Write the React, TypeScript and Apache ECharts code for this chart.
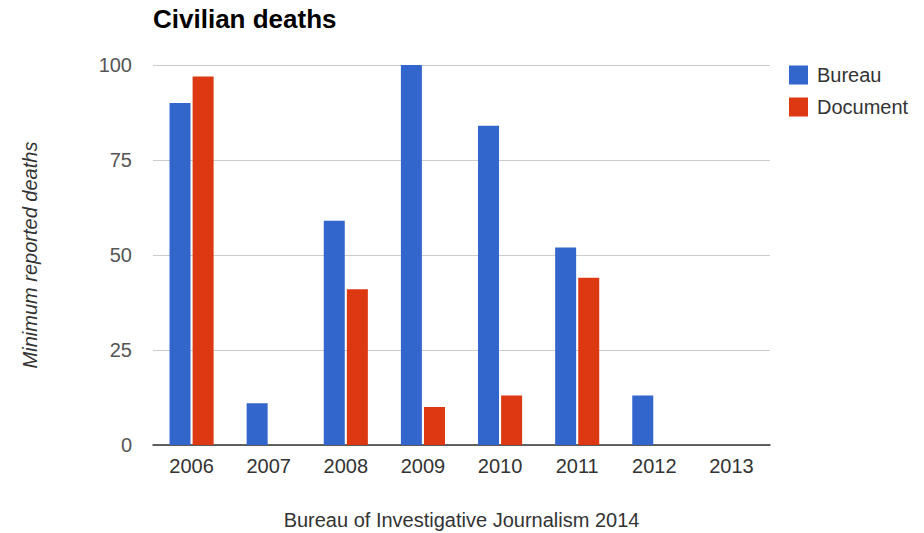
import React, { useEffect, useRef } from "react";
import * as echarts from "echarts";

const years = ["2006", "2007", "2008", "2009", "2010", "2011", "2012", "2013"];
const bureau = [90, 11, 59, 100, 84, 52, 13, 0];
const documentVals = [97, 0, 41, 10, 13, 44, 0, 0];
const yTicks = [0, 25, 50, 75, 100];

const FONT = "Liberation Sans";

export default function App() {
  const ref = useRef<HTMLDivElement>(null);
  useEffect(() => {
    document.body.style.margin = "0";
    const chart = echarts.init(ref.current!, undefined, { renderer: "svg" });
    chart.setOption({
      animation: false,
      backgroundColor: "#ffffff",
      title: {
        text: "Civilian deaths",
        left: 153,
        top: 6,
        padding: 0,
        textStyle: { fontFamily: FONT, fontSize: 26, fontWeight: "bold", color: "#000" },
      },
      legend: {
        orient: "vertical",
        left: 789,
        top: 65,
        padding: 0,
        itemWidth: 19,
        itemHeight: 19,
        itemGap: 12,
        icon: "rect",
        textStyle: { fontFamily: FONT, fontSize: 20, color: "#333", padding: [0, 0, 0, 4] },
        data: ["Bureau", "Document"],
      },
      grid: { left: 153, right: 154, top: 65, bottom: 88, outerBoundsMode: "none", containLabel: false },
      xAxis: {
        type: "category",
        data: years,
        name: "Bureau of Investigative Journalism 2014",
        nameLocation: "middle",
        nameGap: 65,
        nameTextStyle: { fontFamily: FONT, fontSize: 20, color: "#333" },
        axisLine: { lineStyle: { color: "#333", width: 1.5 } },
        axisTick: { show: false },
        axisLabel: { fontFamily: FONT, fontSize: 20, color: "#333", margin: 11 },
      },
      yAxis: {
        type: "value",
        min: yTicks[0],
        max: yTicks[yTicks.length - 1],
        interval: 25,
        name: "Minimum reported deaths",
        nameLocation: "middle",
        nameGap: 113,
        nameTextStyle: { fontFamily: FONT, fontSize: 20, fontStyle: "italic", color: "#333" },
        axisLine: { show: false },
        axisTick: { show: false },
        axisLabel: { fontFamily: FONT, fontSize: 20, color: "#555", margin: 21 },
        splitLine: { lineStyle: { color: "#cccccc" } },
      },
      series: [
        {
          name: "Bureau",
          type: "bar",
          data: bureau,
          barWidth: 21,
          barGap: "10%",
          itemStyle: { color: "#3366cc" },
        },
        {
          name: "Document",
          type: "bar",
          data: documentVals,
          barWidth: 21,
          barGap: "10%",
          itemStyle: { color: "#dc3912" },
        },
      ],
    });
    return () => chart.dispose();
  }, []);
  return <div ref={ref} style={{ width: 924, height: 533 }} />;
}
